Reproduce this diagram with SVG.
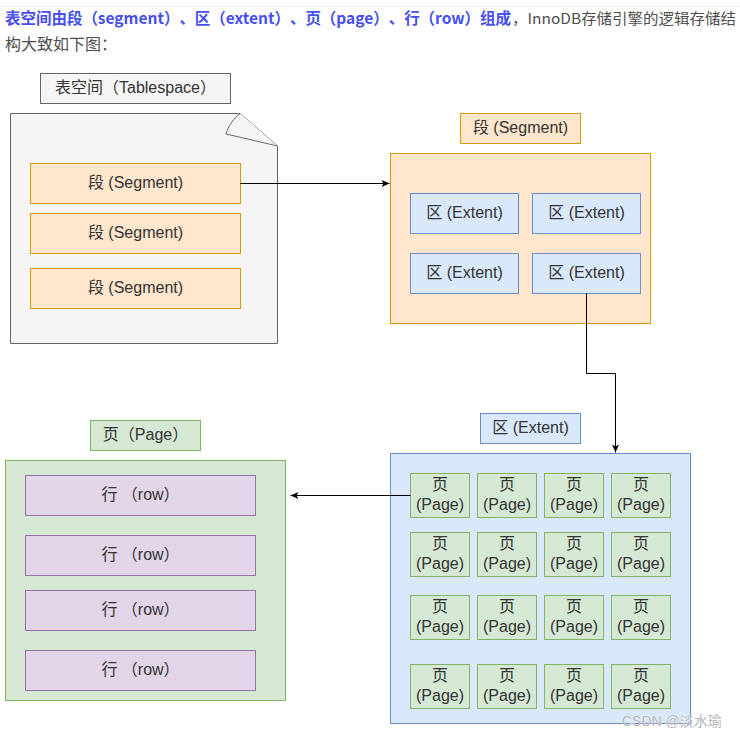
<svg xmlns="http://www.w3.org/2000/svg" width="740" height="739" viewBox="0 0 740 739">
<defs>
<marker id="arr" markerWidth="10" markerHeight="10" refX="9" refY="5" orient="auto" markerUnits="userSpaceOnUse">
<path d="M1,1.5 L9,5 L1,8.5 L3,5 Z" fill="#000"/>
</marker>
<style>
text{font-family:"Liberation Sans","Noto Sans CJK SC",sans-serif;font-size:16px;fill:#333;text-anchor:middle}
.hd{text-anchor:start;font-family:"Noto Sans CJK SC","Liberation Sans",sans-serif;font-size:16px;text-spacing-trim:space-all}
.blue{fill:#4650ee;font-weight:bold}
.gray{fill:#4d4d4d}
.sm{font-size:14.5px}
.doc{fill:#f5f5f5;stroke:#666;stroke-width:1}
.seg{fill:#ffe6cc;stroke:#d79b00;stroke-width:1}
.ext{fill:#dae8fc;stroke:#6c8ebf;stroke-width:1}
.pg{fill:#d5e8d4;stroke:#82b366;stroke-width:1}
.row{fill:#e1d5e7;stroke:#9673a6;stroke-width:1}
.c{fill:none;stroke:#000;stroke-width:1}
.wm{fill:#b5b5b5;font-size:14px;text-anchor:start;stroke:#fff;stroke-width:0.5;paint-order:stroke}
</style>
</defs>
<rect width="740" height="739" fill="#fff"/>
<line x1="0" y1="6.5" x2="740" y2="6.5" stroke="#eeeeee"/>
<text class="hd blue" x="5" y="24" textLength="506" lengthAdjust="spacingAndGlyphs">表空间由段（segment）、区（extent）、页（page）、行（row）组成</text>
<text class="hd gray sm" x="512" y="24" textLength="224" lengthAdjust="spacingAndGlyphs">，InnoDB存储引擎的逻辑存储结</text>
<text class="hd gray" x="5" y="50">构大致如下图：</text>

<g id="tablespace-label"><rect class="doc" x="40.5" y="73.5" width="190" height="30"/><text x="135.5" y="93">表空间（Tablespace）</text></g>
<g id="tablespace">
<path class="doc" d="M10.5,113.5 H240 L277.5,146 V343.5 H10.5 Z"/>
<path class="doc" d="M240,113.5 C233,119 228,127 226,134 L277.5,146"/>
</g>
<g id="seg1"><rect class="seg" x="30.5" y="163.5" width="210" height="40"/><text x="135.5" y="188">段 (Segment)</text></g>
<g id="seg2"><rect class="seg" x="30.5" y="213.5" width="210" height="40"/><text x="135.5" y="238">段 (Segment)</text></g>
<g id="seg3"><rect class="seg" x="30.5" y="268.5" width="210" height="40"/><text x="135.5" y="293">段 (Segment)</text></g>

<g id="segment-label"><rect class="seg" x="460.5" y="113.5" width="120" height="30"/><text x="520.5" y="133">段 (Segment)</text></g>
<g id="segment"><rect class="seg" x="390.5" y="153.5" width="260" height="170"/></g>
<g id="ext1"><rect class="ext" x="410.5" y="193.5" width="108" height="40"/><text x="464.5" y="218">区 (Extent)</text></g>
<g id="ext2"><rect class="ext" x="532.5" y="193.5" width="108" height="40"/><text x="586.5" y="218">区 (Extent)</text></g>
<g id="ext3"><rect class="ext" x="410.5" y="253.5" width="108" height="40"/><text x="464.5" y="278">区 (Extent)</text></g>
<g id="ext4"><rect class="ext" x="532.5" y="253.5" width="108" height="40"/><text x="586.5" y="278">区 (Extent)</text></g>

<g id="extent-label"><rect class="ext" x="480.5" y="413.5" width="100" height="30"/><text x="530.5" y="433">区 (Extent)</text></g>
<g id="extent"><rect class="ext" x="390.5" y="453.5" width="300" height="270"/></g>
<g id="pages">
<g id="p11"><rect class="pg" x="410.5" y="473.5" width="59" height="44"/><text x="440" y="490">页</text><text x="440" y="510">(Page)</text></g>
<g id="p12"><rect class="pg" x="477.5" y="473.5" width="59" height="44"/><text x="507" y="490">页</text><text x="507" y="510">(Page)</text></g>
<g id="p13"><rect class="pg" x="544.5" y="473.5" width="59" height="44"/><text x="574" y="490">页</text><text x="574" y="510">(Page)</text></g>
<g id="p14"><rect class="pg" x="611.5" y="473.5" width="59" height="44"/><text x="641" y="490">页</text><text x="641" y="510">(Page)</text></g>
<g id="p21"><rect class="pg" x="410.5" y="532.5" width="59" height="44"/><text x="440" y="549">页</text><text x="440" y="569">(Page)</text></g>
<g id="p22"><rect class="pg" x="477.5" y="532.5" width="59" height="44"/><text x="507" y="549">页</text><text x="507" y="569">(Page)</text></g>
<g id="p23"><rect class="pg" x="544.5" y="532.5" width="59" height="44"/><text x="574" y="549">页</text><text x="574" y="569">(Page)</text></g>
<g id="p24"><rect class="pg" x="611.5" y="532.5" width="59" height="44"/><text x="641" y="549">页</text><text x="641" y="569">(Page)</text></g>
<g id="p31"><rect class="pg" x="410.5" y="595.5" width="59" height="44"/><text x="440" y="612">页</text><text x="440" y="632">(Page)</text></g>
<g id="p32"><rect class="pg" x="477.5" y="595.5" width="59" height="44"/><text x="507" y="612">页</text><text x="507" y="632">(Page)</text></g>
<g id="p33"><rect class="pg" x="544.5" y="595.5" width="59" height="44"/><text x="574" y="612">页</text><text x="574" y="632">(Page)</text></g>
<g id="p34"><rect class="pg" x="611.5" y="595.5" width="59" height="44"/><text x="641" y="612">页</text><text x="641" y="632">(Page)</text></g>
<g id="p41"><rect class="pg" x="410.5" y="664.5" width="59" height="44"/><text x="440" y="681">页</text><text x="440" y="701">(Page)</text></g>
<g id="p42"><rect class="pg" x="477.5" y="664.5" width="59" height="44"/><text x="507" y="681">页</text><text x="507" y="701">(Page)</text></g>
<g id="p43"><rect class="pg" x="544.5" y="664.5" width="59" height="44"/><text x="574" y="681">页</text><text x="574" y="701">(Page)</text></g>
<g id="p44"><rect class="pg" x="611.5" y="664.5" width="59" height="44"/><text x="641" y="681">页</text><text x="641" y="701">(Page)</text></g>
</g>

<g id="page-label"><rect class="pg" x="90.5" y="420.5" width="110" height="30"/><text x="145.5" y="440">页（Page）</text></g>
<g id="page"><rect class="pg" x="5.5" y="460.5" width="280" height="240"/></g>
<g id="row1"><rect class="row" x="25.5" y="475.5" width="230" height="40"/><text x="140.5" y="500">行 （row）</text></g>
<g id="row2"><rect class="row" x="25.5" y="535.5" width="230" height="40"/><text x="140.5" y="560">行 （row）</text></g>
<g id="row3"><rect class="row" x="25.5" y="590.5" width="230" height="40"/><text x="140.5" y="615">行 （row）</text></g>
<g id="row4"><rect class="row" x="25.5" y="650.5" width="230" height="40"/><text x="140.5" y="675">行 （row）</text></g>

<g id="connectors">
<path class="c" d="M240.5,183.5 H389.5" marker-end="url(#arr)"/>
<path class="c" d="M586.5,293.5 V373.5 H615.5 V452.5" marker-end="url(#arr)"/>
<path class="c" d="M410.5,495.5 H290.5" marker-end="url(#arr)"/>
</g>

<text class="wm" x="622" y="726">CSDN @淡水瑜</text>
</svg>
